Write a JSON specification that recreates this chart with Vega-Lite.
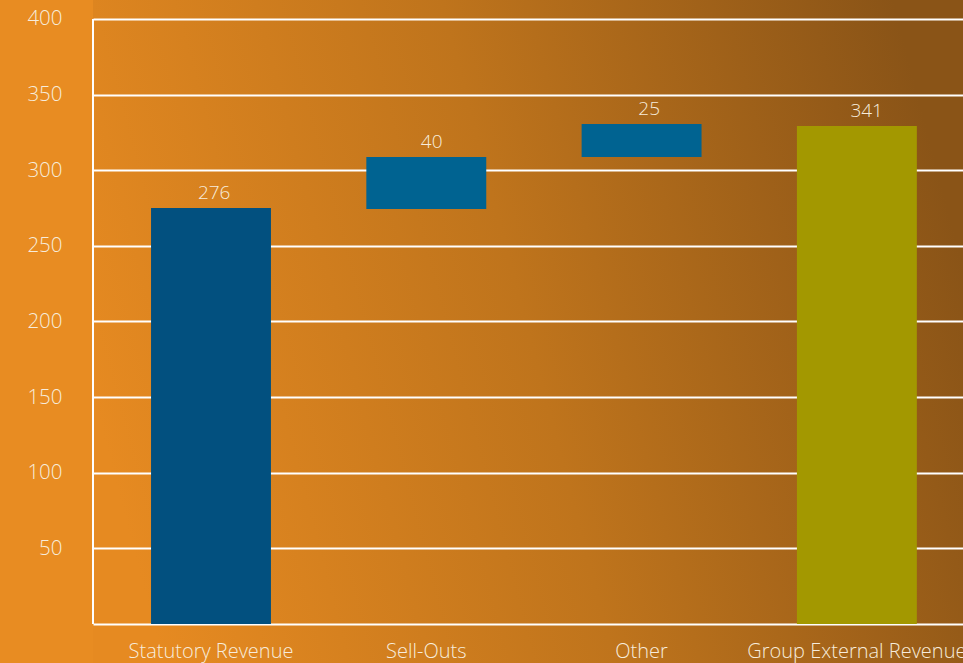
{
  "$schema": "https://vega.github.io/schema/vega-lite/v6.json",
  "width": 870,
  "height": 663,
  "autosize": {"type": "none"},
  "padding": {"left": 93, "top": 0, "right": 0, "bottom": 0},
  "background": "#e88c22",
  "config": {
    "font": "Open Sans",
    "view": {
      "stroke": null,
      "fill": {
        "gradient": "linear",
        "x1": 0, "y1": 0.6, "x2": 1, "y2": 0.4,
        "stops": [
          {"offset": 0, "color": "#e68a21"},
          {"offset": 0.5, "color": "#bf741c"},
          {"offset": 1, "color": "#8a5417"}
        ]
      }
    }
  },
  "data": {
    "values": [
      {"category": "Statutory Revenue", "start": 0, "end": 275, "label": "276", "kind": "base"},
      {"category": "Sell-Outs", "start": 274.4, "end": 308.8, "label": "40", "kind": "change"},
      {"category": "Other", "start": 308.8, "end": 330.6, "label": "25", "kind": "change"},
      {"category": "Group External Revenue", "start": 0, "end": 329.3, "label": "341", "kind": "total"}
    ]
  },
  "resolve": {"scale": {"x": "independent"}, "axis": {"x": "independent"}},
  "layer": [
    {
      "mark": {"type": "bar"},
      "encoding": {
        "x": {
          "field": "category", "type": "nominal", "sort": null,
          "scale": {"paddingInner": 0.443, "paddingOuter": 0.242, "align": 0.557},
          "axis": {
            "title": null, "orient": "bottom", "offset": -39, "labelAngle": 0,
            "ticks": false, "labelPadding": 17, "labelFontSize": 20, "labelFontWeight": 300,
            "labelLimit": 0, "labelOverlap": false,
            "labelColor": "#f7ecdc", "domainColor": "#ffffff", "domainWidth": 2, "grid": false
          }
        },
        "y": {
          "field": "start", "type": "quantitative",
          "scale": {"domain": [-25.79, 412.56], "nice": false, "zero": false},
          "axis": {
            "title": null, "values": [50, 100, 150, 200, 250, 300, 350, 400],
            "domain": false, "ticks": false, "labelPadding": 31, "labelFontSize": 20.5, "labelFontWeight": 300,
            "labelColor": "#f7ecdc", "grid": true, "gridColor": "#ffffff", "gridWidth": 2, "gridOpacity": 1
          }
        },
        "y2": {"field": "end"},
        "color": {
          "field": "kind", "type": "nominal", "legend": null,
          "scale": {"domain": ["base", "change", "total"], "range": ["#02507f", "#006391", "#a39800"]}
        }
      }
    },
    {
      "mark": {"type": "text", "baseline": "bottom", "dy": -5, "fontSize": 19, "fontWeight": 300, "color": "#f7ecdc"},
      "encoding": {
        "x": {"field": "category", "type": "nominal", "sort": null,
              "scale": {"paddingInner": 0.443, "paddingOuter": 0.242, "align": 0.557}, "axis": null},
        "y": {"field": "end", "type": "quantitative"},
        "text": {"field": "label"}
      }
    },
    {
      "mark": {"type": "rule", "color": "#ffffff", "strokeWidth": 2},
      "encoding": {
        "x": {"datum": 0, "type": "quantitative", "scale": {"domain": [0, 1]}, "axis": null},
        "y": {"datum": 0, "type": "quantitative"},
        "y2": {"datum": 400}
      }
    }
  ]
}
